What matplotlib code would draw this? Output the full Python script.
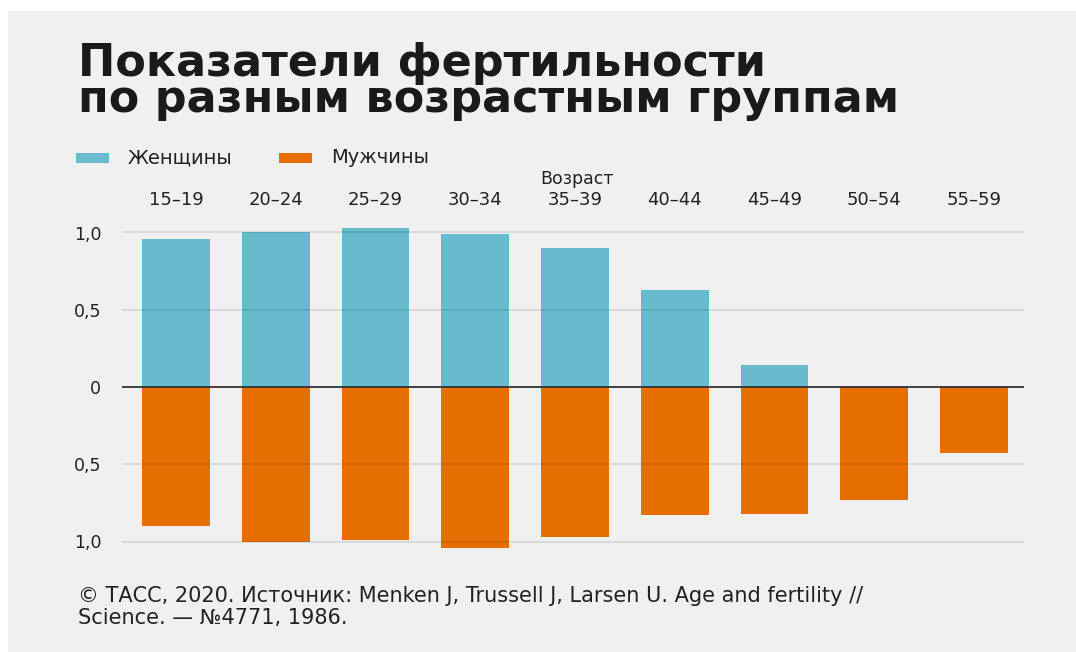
import matplotlib.pyplot as plt
from matplotlib.patches import Rectangle
import numpy as np

ages = ['15–19', '20–24', '25–29', '30–34', '35–39', '40–44', '45–49', '50–54', '55–59']
women = [0.955, 1.0, 1.03, 0.99, 0.90, 0.625, 0.14, 0, 0]
men = [0.90, 1.0, 0.99, 1.04, 0.97, 0.83, 0.825, 0.73, 0.43]
yticks = [1.0, 0.5, 0, -0.5, -1.0]
ylabels = ['1,0', '0,5', '0', '0,5', '1,0']

blue = '#67bbcc'
orange = '#e66f00'
bg = '#f0f0f0'
txt = '#222222'

plt.rcParams['font.family'] = ['DejaVu Sans']

W, H = 1076, 652
fig = plt.figure(figsize=(W / 100, H / 100), dpi=100, facecolor='white')
fig.patches.append(Rectangle((8 / W, 0), 1 - 8 / W, 1 - 11 / H, transform=fig.transFigure,
                             facecolor=bg, edgecolor='none', zorder=-10))

# axes placed so that zero sits at y=387px and 1 unit = 154.5px
ylo, yhi = -1.1, 1.1
top_px = 387 - yhi * 154.5
bot_px = 387 - ylo * 154.5
ax = fig.add_axes([122 / W, 1 - bot_px / H, (1024 - 122) / W, (bot_px - top_px) / H])
ax.set_facecolor('none')
ax.set_xlim(-0.54, 8.5)
ax.set_ylim(ylo, yhi)

x = np.arange(len(ages))
ax.bar(x, women, width=0.68, color=blue, zorder=2)
ax.bar(x, [-m for m in men], width=0.68, color=orange, zorder=2)

for t in yticks:
    if t == 0:
        ax.axhline(0, color='#333333', lw=1.3, zorder=4)
    else:
        ax.axhline(t, color='black', alpha=0.1, lw=1.3, zorder=3)

for s in ax.spines.values():
    s.set_visible(False)
ax.set_yticks(yticks)
ax.set_yticklabels(ylabels, fontsize=12.5, color=txt)
ax.tick_params(axis='y', length=0, pad=15)
ax.xaxis.tick_top()
ax.set_xticks(x)
ax.set_xticklabels(ages, fontsize=13, color=txt)
ax.tick_params(axis='x', length=0, pad=6)

fig.text(577 / W, 1 - 179 / H, 'Возраст', fontsize=12.5, color=txt, ha='center', va='center')

# title
fig.text(78 / W, 1 - 112 / H, 'Показатели фертильности\nпо разным возрастным группам',
         fontsize=32, fontweight='bold', color='#1a1a1a', ha='left', va='baseline',
         linespacing=0.8)

# legend
fig.patches.append(Rectangle((76 / W, 1 - 163 / H), 33 / W, 10 / H, transform=fig.transFigure,
                             facecolor=blue, edgecolor='none'))
fig.text(128 / W, 1 - 158 / H, 'Женщины', fontsize=14, color=txt, va='center')
fig.patches.append(Rectangle((279 / W, 1 - 163 / H), 33 / W, 10 / H, transform=fig.transFigure,
                             facecolor=orange, edgecolor='none'))
fig.text(331 / W, 1 - 158 / H, 'Мужчины', fontsize=14, color=txt, va='center')

# source
fig.text(78 / W, 1 - 596 / H, '© ТАСС, 2020. Источник: Menken J, Trussell J, Larsen U. Age and fertility //',
         fontsize=15, color=txt, va='center')
fig.text(78 / W, 1 - 618 / H, 'Science. — №4771, 1986.', fontsize=15, color=txt, va='center')

fig.savefig('out.png', dpi=100, facecolor='white')
